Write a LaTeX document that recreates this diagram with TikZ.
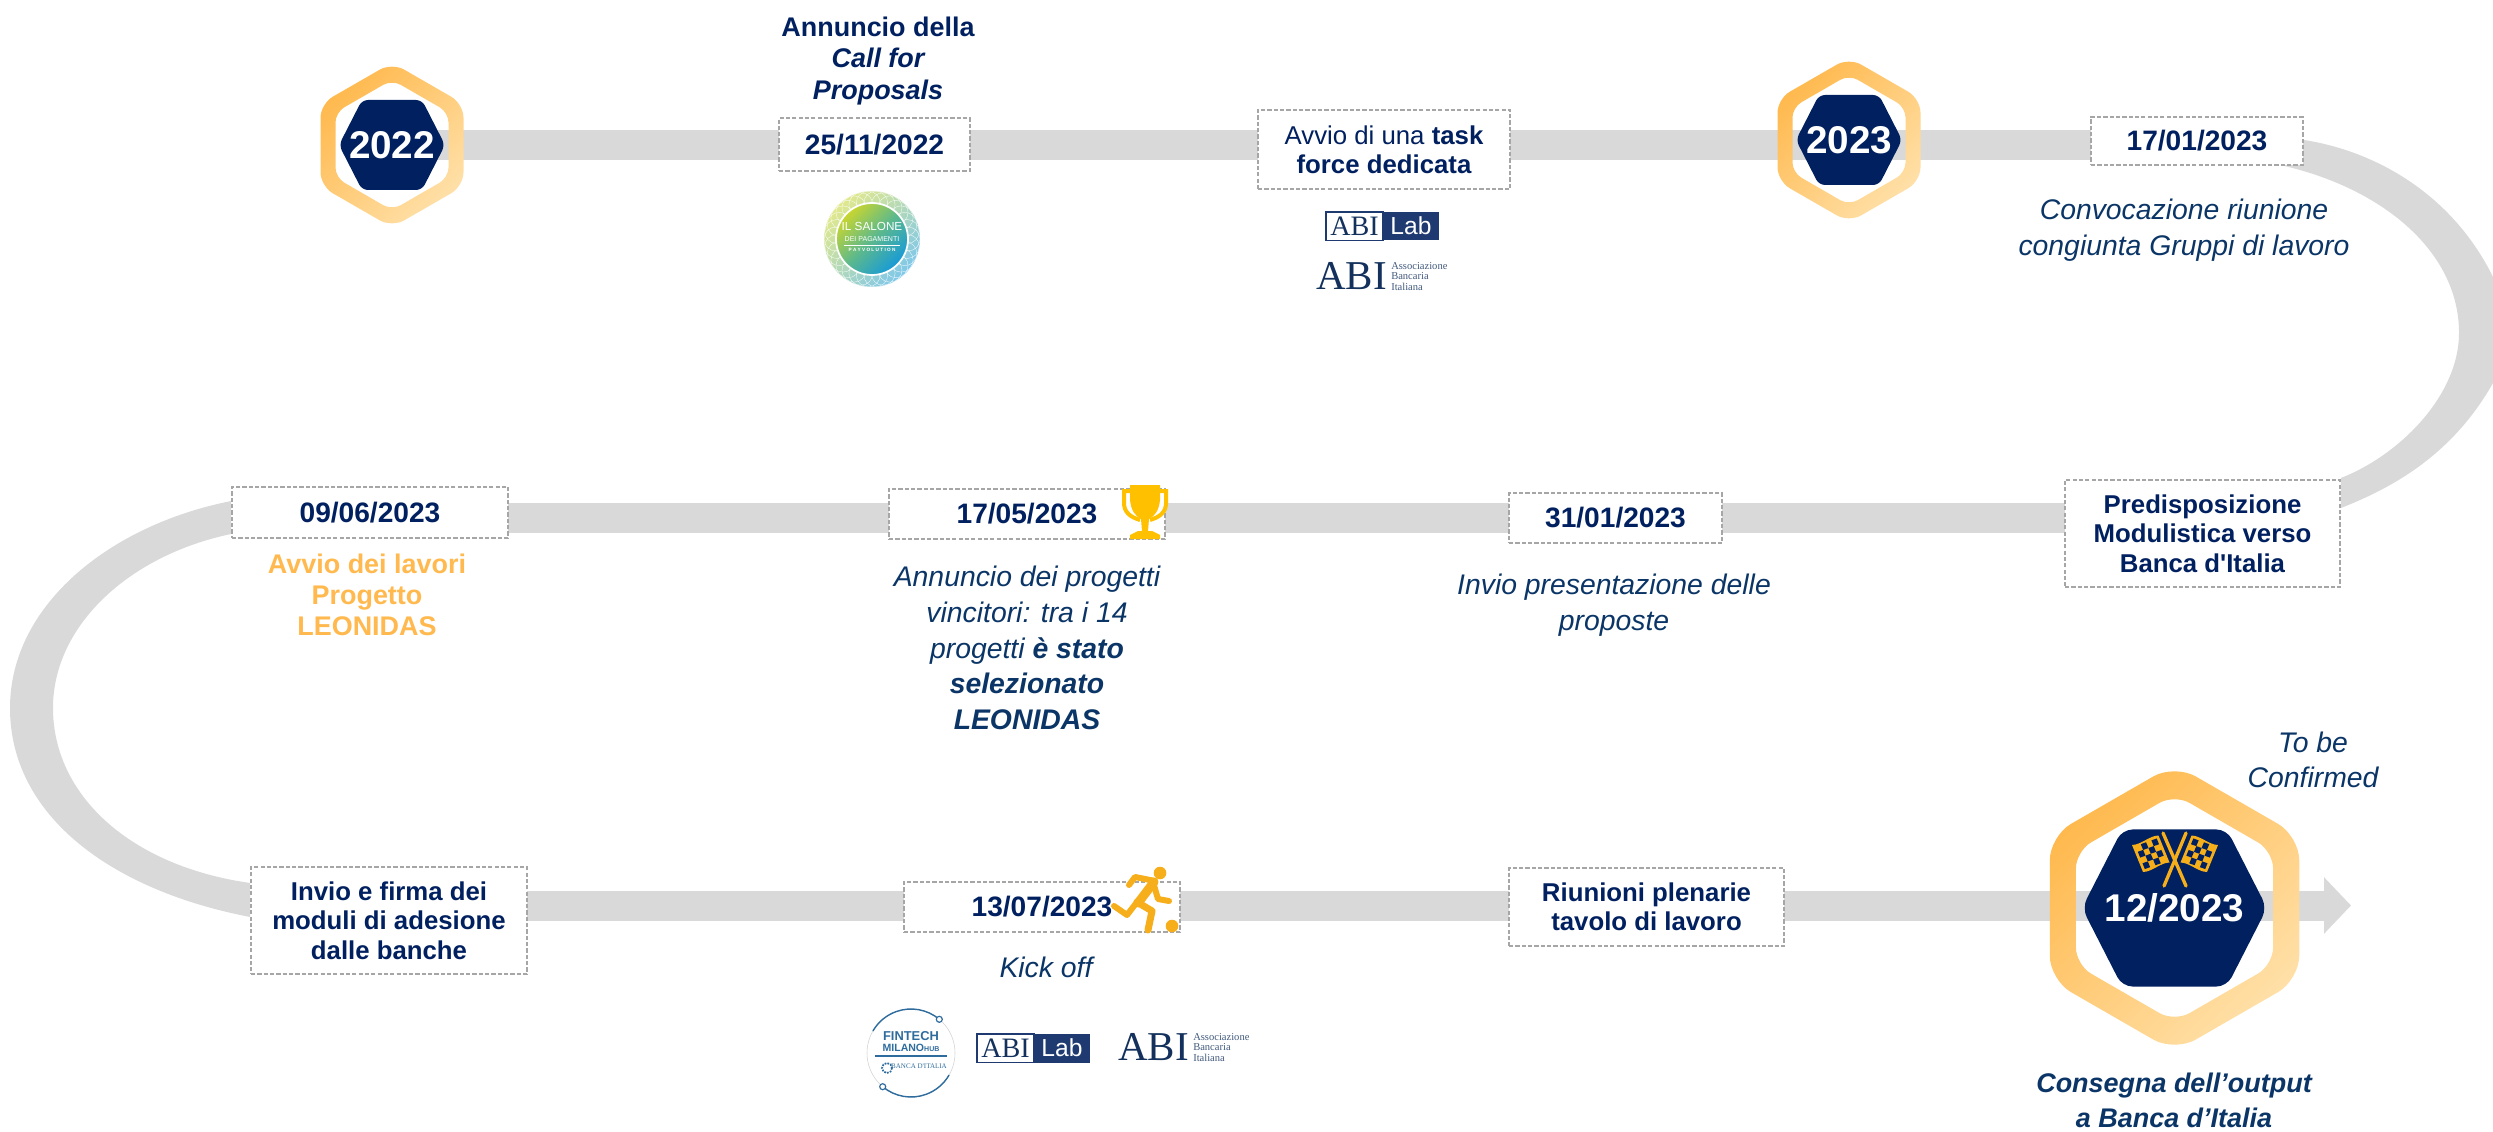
\documentclass[tikz,border=0pt]{standalone}
\usepackage{fontspec}
\setmainfont[Ligatures=TeXOff]{Liberation Sans}
\newfontfamily\abifont{Liberation Serif}
\usetikzlibrary{arrows.meta,backgrounds}

\definecolor{navyblue}{HTML}{002060}
\definecolor{noteblue}{HTML}{0A3566}
\definecolor{trackgray}{HTML}{D9D9D9}
\definecolor{boxgray}{HTML}{A6A6A6}
\definecolor{ringdark}{HTML}{FFB94E}
\definecolor{ringlight}{HTML}{FFE0A8}
\definecolor{cupyellow}{HTML}{FFC000}
\definecolor{runnerorange}{HTML}{F7AE1B}
\definecolor{lableblue}{HTML}{1F3A70}
\definecolor{abiblue}{HTML}{13315C}
\definecolor{hubblue}{HTML}{2F6C9E}
\definecolor{saloneyellow}{HTML}{C9D62F}
\definecolor{saloneteal}{HTML}{5DB98C}
\definecolor{saloneblue}{HTML}{169AD8}

\tikzset{
	track/.style={line width=0.9cm, draw=trackgray},
	datebox/.style={draw=boxgray, line width=1.4pt, dash pattern=on 3.6pt off 1.8pt, fill=white, text=navyblue,
		align=center, inner sep=0pt, minimum width=8.28cm, minimum height=1.5cm,
		font=\fontsize{24}{28}\selectfont\bfseries},
	stepbox/.style={datebox, font=\fontsize{22}{25}\selectfont\bfseries},
	note/.style={text=noteblue, align=center, inner sep=0pt, font=\fontsize{24.2}{30.5}\selectfont\itshape},
	yearlabel/.style={text=white, inner sep=0pt, font=\fontsize{33}{38}\selectfont\bfseries},
	figure/.style={line cap=round, line join=round},
}

\begin{document}
\begin{tikzpicture}[x=0.03cm, y=-0.03cm]
\useasboundingbox (0, 0) rectangle (2493, 1132);

\node[datebox, minimum width=5.73cm, minimum height=1.59cm] (boxcall) at (874.5, 144.5) {25/11/2022};
\node[stepbox, minimum width=7.56cm, minimum height=2.37cm] (boxtask) at (1384, 149.5) {\mdseries Avvio di una \bfseries task\\force dedicata};
\node[datebox, minimum width=6.36cm, minimum height=1.44cm] (boxconv) at (2197, 141) {17/01/2023};
\node[stepbox, minimum width=8.25cm, minimum height=3.21cm] (boxpre) at (2202.5, 533.5) {Predisposizione\\Modulistica verso\\Banca d'Italia};
\node[datebox, minimum width=6.39cm] (boxprop) at (1615.5, 518) {31/01/2023};
\node[datebox] (boxwin) at (1027, 514) {17/05/2023};
\node[datebox, minimum height=1.53cm] (boxleo) at (370, 512.5) {09/06/2023};
\node[stepbox, minimum height=3.21cm] (boxadh) at (389, 920.5) {Invio e firma dei\\moduli di adesione\\dalle banche};
\node[datebox] (boxkick) at (1042, 907) {13/07/2023};
\node[stepbox, minimum width=8.25cm, minimum height=2.34cm] (boxplen) at (1646.5, 907) {Riunioni plenarie\\tavolo di lavoro};

\foreach \n/\cx/\cy/\sc/\ra/\rb/\rc in {2022/392/145/1/0.42/0.3/0.18, 2023/1849/140/1/0.42/0.3/0.18, end/2174.5/908/1.745/0.73/0.52/0.31}
{
	\begin{scope}[shift={(\cx, \cy)}, scale=\sc]
		\shade[top color=ringdark, bottom color=ringlight, shading angle=45, even odd rule]
			[rounded corners=\ra cm] (0, -82.4) -- (71.5, -41.2) -- (71.5, 41.2) -- (0, 82.4) -- (-71.5, 41.2) -- (-71.5, -41.2) -- cycle
			[rounded corners=\rb cm] (0, -65.2) -- (56.5, -32.6) -- (56.5, 32.6) -- (0, 65.2) -- (-56.5, 32.6) -- (-56.5, -32.6) -- cycle;
		\fill[navyblue, rounded corners=\rc cm] (-30, -45) -- (30, -45) -- (53, 0) -- (30, 45) -- (-30, 45) -- (-53, 0) -- cycle;
	\end{scope}
	\coordinate (badge\n) at (\cx, \cy);
}
\node[yearlabel] (year2022) at (badge2022) {2022};
\node[yearlabel] (year2023) at (badge2023) {2023};
\node[yearlabel] (yearend) at (badgeend) {12/2023};

\coordinate (arrowend) at (2351, 905.5);

\begin{scope}[on background layer]
	\draw[track] (badge2022) -- (boxcall |- badge2022) -- (boxtask |- badge2022) -- (badge2023 |- badge2022) -- (boxconv |- badge2022);
	\draw[track] (boxpre.center |- boxprop) -- (boxprop.center) -- (boxwin |- boxprop) -- (boxleo |- boxprop);
	\draw[track, -{Triangle[length=0.81cm, width=1.65cm]}] (boxadh |- arrowend) -- (boxkick |- arrowend) -- (boxplen |- arrowend) -- (badgeend |- arrowend) -- (arrowend);
	\fill[trackgray] (boxconv.east |- 0, 140) .. controls (2370, 150) and (2450, 190) .. (2493, 277) -- (2493, 383)
		.. controls (2455, 450) and (2400, 485) .. (boxpre.east |- 0, 508) -- (boxpre.east |- 0, 478)
		.. controls (2400, 455) and (2459, 395) .. (2459, 333) .. controls (2459, 250) and (2380, 187) .. (2280, 165) -- cycle;
	\fill[trackgray] (boxleo.west |- 0, 501) .. controls (110, 525) and (10, 605) .. (10, 708)
		.. controls (10, 815) and (110, 890) .. (boxadh.west |- 0, 917) -- (boxadh.west |- 0, 883)
		.. controls (130, 866) and (53, 795) .. (53, 708) .. controls (53, 625) and (130, 555) .. (boxleo.west |- 0, 534) -- cycle;
\end{scope}

\node[text=navyblue, align=center, inner sep=0pt, font=\fontsize{23}{27}\selectfont\bfseries] (calltext) at (878, 61) {Annuncio della\\\itshape Call for\\\itshape Proposals};
\node[note] (convtext) at (2184, 230) {Convocazione riunione\\congiunta Gruppi di lavoro};
\node[note] (wintext) at (1027, 648) {Annuncio dei progetti\\vincitori: tra i 14\\progetti \textbf{è stato}\\\textbf{selezionato}\\\textbf{LEONIDAS}};
\node[note] (proptext) at (1614, 605.5) {Invio presentazione delle\\proposte};
\node[text=ringdark, align=center, inner sep=0pt, font=\fontsize{23}{26.5}\selectfont\bfseries] (leotext) at (367, 595) {Avvio dei lavori\\Progetto\\LEONIDAS};
\node[note] (kicktext) at (1046, 967) {Kick off};
\node[note] (confirmtext) at (2313, 760) {To be\\Confirmed};
\node[note, font=\fontsize{23}{30}\selectfont\itshape\bfseries] (endtext) at (2174, 1100) {Consegna dell’output\\a Banca d’Italia};

\foreach \ox/\sx in {2132/1, 2218/-1}
{
	\begin{scope}[shift={(\ox, 845)}, x={(\sx*0.159cm, 0.057cm)}, y={(\sx*0.0825cm, -0.2025cm)}]
		\fill[runnerorange] (0, 0) .. controls (1.5, 0.4) and (3.5, -0.4) .. (5, 0) -- (5, 4) .. controls (3.5, 3.6) and (1.5, 4.4) .. (0, 4) -- cycle;
		\foreach \i in {0, ..., 3}
		{
			\foreach \j in {0, ..., 3}
			{
				\ifodd\numexpr\i+\j\relax
					\fill[navyblue] (0.5+\i, 0.3+0.85*\j) -- ++(1, 0) -- ++(0, 0.85) -- ++(-1, 0) -- cycle;
				\fi
			}
		}
	\end{scope}
}
\draw[runnerorange, figure, line width=0.1cm] (2163, 833) -- (2186, 886);
\draw[runnerorange, figure, line width=0.1cm] (2186, 833) -- (2164, 886);

\fill[cupyellow] (1130, 485) -- (1160, 485) -- (1160, 500) .. controls (1159, 510) and (1155, 516) .. (1149, 519)
	-- (1148, 531) -- (1152, 531) -- (1160, 535) -- (1160, 539) -- (1130, 539) -- (1130, 535) -- (1138, 531) -- (1142, 531) -- (1141, 519)
	.. controls (1135, 516) and (1131, 510) .. (1130, 500) -- cycle;
\draw[cupyellow, line width=0.12cm] (1131, 491) -- (1124, 491) -- (1124, 503) .. controls (1124, 512) and (1130, 517) .. (1140, 520);
\draw[cupyellow, line width=0.12cm] (1159, 491) -- (1166, 491) -- (1166, 503) .. controls (1166, 512) and (1160, 517) .. (1150, 520);

\fill[runnerorange] (1160, 873) circle (6.3);
\fill[runnerorange] (1172, 926) circle (6.3);
\draw[runnerorange, figure, line width=0.18cm] (1129, 885) -- (1135, 877) -- (1155, 881);
\draw[runnerorange, figure, line width=0.27cm] (1154, 882) -- (1138, 903);
\draw[runnerorange, figure, line width=0.18cm] (1153, 882) -- (1158, 899) -- (1169, 901);
\draw[runnerorange, figure, line width=0.18cm] (1137, 902) -- (1127, 915) -- (1114, 906);
\draw[runnerorange, figure, line width=0.21cm] (1137, 902) -- (1152, 911) -- (1148, 930);

\shade[top color=saloneyellow!55!white, bottom color=saloneblue!55!white, shading angle=45] (872, 239) circle (48);
\foreach \a in {0, 12, ..., 348}
{
	\draw[white, line width=0.25pt] (872, 239) ++(\a:36) circle (12);
}
\shade[top color=saloneyellow, bottom color=saloneblue, middle color=saloneteal, shading angle=45, draw=white, line width=1.5pt] (872, 239) circle (36);
\node[white, inner sep=0pt, font=\fontsize{10}{10}\selectfont] (salonetop) at (872, 226) {IL SALONE};
\node[white, inner sep=0pt, font=\fontsize{6}{6}\selectfont] (salonemid) at (872, 239) {DEI PAGAMENTI};
\draw[white, line width=0.3pt] (844, 245) -- (900, 245);
\node[white, inner sep=0pt, font=\fontsize{4}{4}\selectfont\bfseries] (salonelow) at (872, 250) {P A Y V O L U T I O N};

\foreach \n/\lx/\ly in {a/1326/212, b/977/1034}
{
	\draw[lableblue, fill=white, line width=1pt] (\lx, \ly) rectangle (\lx+57, \ly+28.5);
	\fill[lableblue] (\lx+57, \ly) rectangle (\lx+113, \ly+28.5);
	\node[abiblue, inner sep=0pt, font=\abifont\fontsize{24}{24}\selectfont] (lababi\n) at (\lx+28.5, \ly+14.5) {ABI};
	\node[white, inner sep=0pt, font=\fontsize{21}{21}\selectfont] (lablab\n) at (\lx+85, \ly+14) {Lab};
}
\foreach \n/\lx/\ly in {a/1317/262, b/1119/1033}
{
	\node[abiblue, anchor=west, inner sep=0pt, font=\abifont\fontsize{35}{35}\selectfont] (abimark\n) at (\lx-1, \ly+14.5) {ABI};
	\node[abiblue!80, anchor=west, align=left, inner sep=0pt, font=\abifont\fontsize{9}{9}\selectfont] (abiname\n) at (\lx+74, \ly+14.5) {Associazione\\Bancaria\\Italiana};
}

\draw[boxgray!50, line width=0.5pt] (911, 1053) circle (44);
\draw[hubblue, line width=1.2pt] (939.3, 1019.3) arc (-50:-150:44);
\draw[hubblue, line width=1.2pt] (882.7, 1086.7) arc (130:30:44);
\draw[hubblue, fill=white, line width=1pt] (939.3, 1019.3) circle (3);
\draw[hubblue, fill=white, line width=1pt] (882.7, 1086.7) circle (3);
\node[hubblue, inner sep=0pt, font=\fontsize{11}{11}\selectfont\bfseries] (hubfintech) at (911, 1036) {FINTECH};
\node[hubblue, inner sep=0pt, font=\fontsize{9}{9}\selectfont\bfseries] (hubmilano) at (911, 1048) {MILANO{\fontsize{6}{6}\selectfont HUB}};
\draw[hubblue, line width=1.2pt] (875, 1056) -- (947, 1056);
\draw[hubblue, densely dotted, line width=1.5pt] (887, 1068) circle (5);
\node[hubblue, inner sep=0pt, font=\abifont\fontsize{6}{6}\selectfont] (hubbanca) at (919, 1066) {BANCA D'ITALIA};
\end{tikzpicture}
\end{document}
